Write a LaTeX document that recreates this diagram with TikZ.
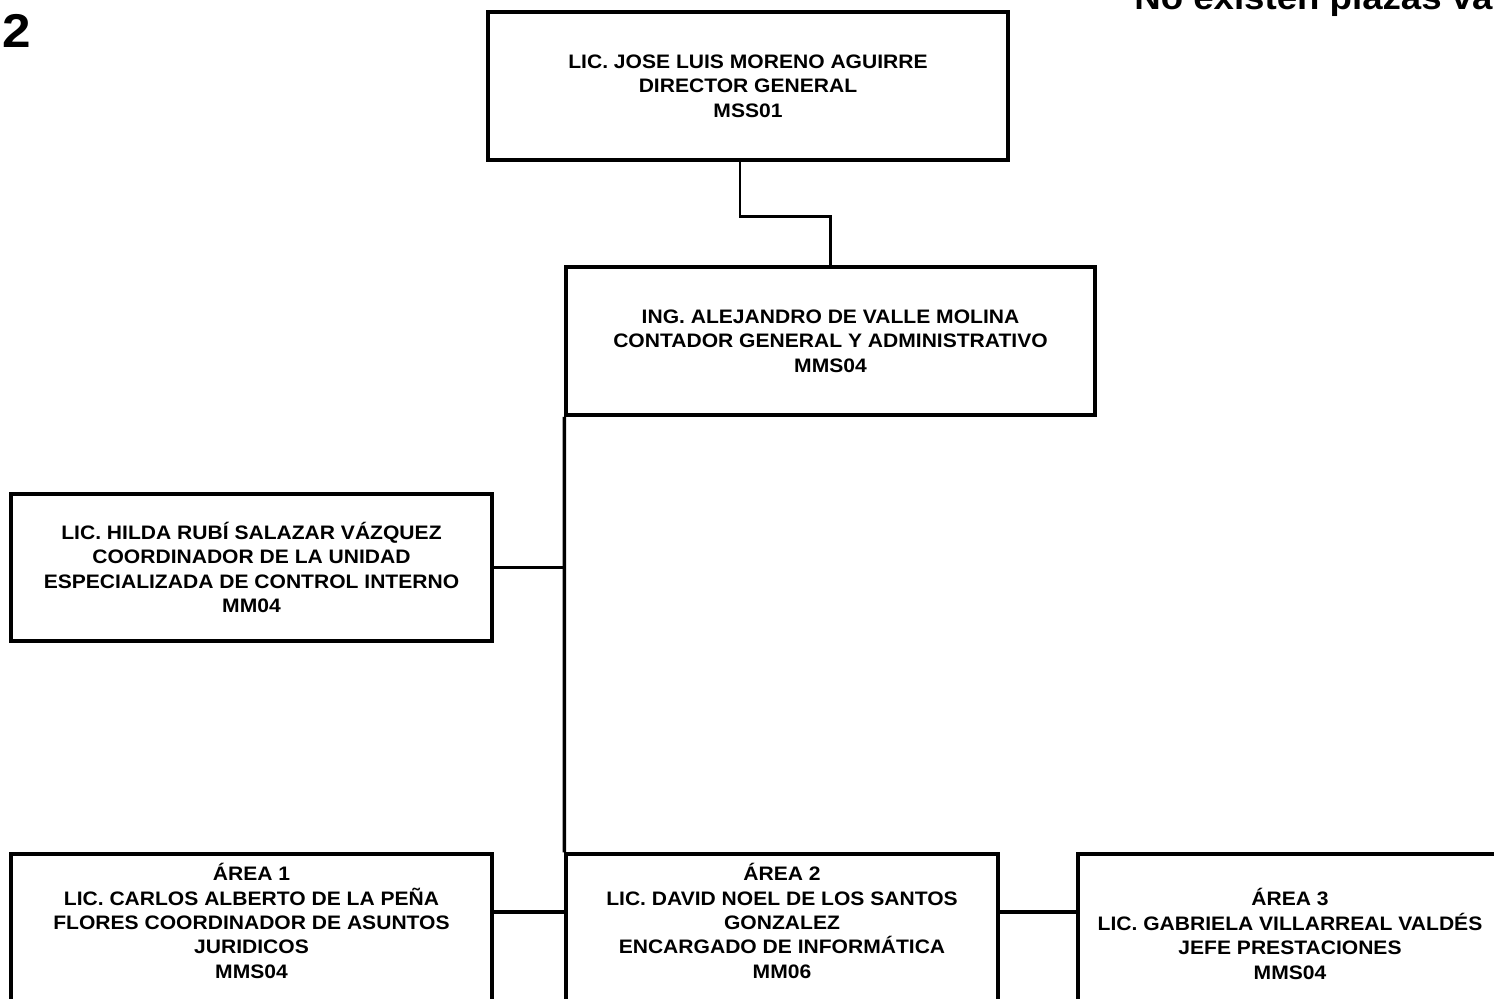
\documentclass[tikz,border=0pt]{standalone}
\usepackage{fontspec}
\setmainfont{Liberation Sans}[FakeStretch=1.08]
\usetikzlibrary{positioning}
\tikzstyle{caja} = [draw, line width=2pt, align=center, inner sep=0pt, font=\bfseries\fontsize{11.1}{13.9}\selectfont]
\tikzstyle{texto} = [align=center, inner sep=0pt, font=\bfseries\fontsize{11.1}{13.9}\selectfont]
\tikzstyle{linea} = [line width=2pt]

\begin{document}
\begin{tikzpicture}[x=0.02cm, y=-0.02cm]

    \useasboundingbox (0,0) rectangle (1494,998);

    \node[anchor=base west, font=\bfseries\fontsize{27}{30}\selectfont, inner sep=0pt] (num) at (2,47) {2};
    \node[anchor=base west, font=\bfseries\fontsize{19.3}{22}\selectfont, inner sep=0pt] (aviso) at (1134,9) {No existen plazas va};

    \node[caja, minimum width=10.4cm, minimum height=2.96cm] (dir) at (748,86)
        {LIC. JOSE LUIS MORENO AGUIRRE\\DIRECTOR GENERAL\\MSS01};
    \node[caja, minimum width=10.58cm, minimum height=2.96cm] (cont) at (830.5,341)
        {ING. ALEJANDRO DE VALLE MOLINA\\CONTADOR GENERAL Y ADMINISTRATIVO\\MMS04};
    \node[caja, minimum width=9.62cm, minimum height=2.94cm] (hilda) at (251.5,567.5)
        {LIC. HILDA RUBÍ SALAZAR VÁZQUEZ\\COORDINADOR DE LA UNIDAD\\ESPECIALIZADA DE CONTROL INTERNO\\MM04};

    \node[caja, minimum width=9.62cm, minimum height=3.2cm,
        label={[texto, yshift=0.26cm]center:{ÁREA 1\\LIC. CARLOS ALBERTO DE LA PEÑA\\FLORES COORDINADOR DE ASUNTOS\\JURIDICOS\\MMS04}}] (a1) at (251.5,934) {};
    \node[caja, minimum width=8.64cm, minimum height=3.2cm,
        label={[texto, yshift=0.26cm]center:{ÁREA 2\\LIC. DAVID NOEL DE LOS SANTOS\\GONZALEZ\\ENCARGADO DE INFORMÁTICA\\MM06}}] (a2) at (782,934) {};
    \node[caja, minimum width=8.48cm, minimum height=3.2cm] (a3) at (1290,934)
        {ÁREA 3\\LIC. GABRIELA VILLARREAL VALDÉS\\JEFE PRESTACIONES\\MMS04};

    \draw[line width=1.6pt] ([xshift=-0.16cm]dir.south) -- ++(0,55) -| (cont.north);
    \draw[linea] (cont.south west) -- (a2.north west);
    \draw[linea] (hilda.east) -- (hilda.east -| cont.west);
    \draw[linea] ([yshift=0.44cm]a1.east) -- ([yshift=0.44cm]a1.east -| a2.west);
    \draw[linea] ([yshift=0.44cm]a2.east) -- ([yshift=0.44cm]a2.east -| a3.west);

\end{tikzpicture}
\end{document}
